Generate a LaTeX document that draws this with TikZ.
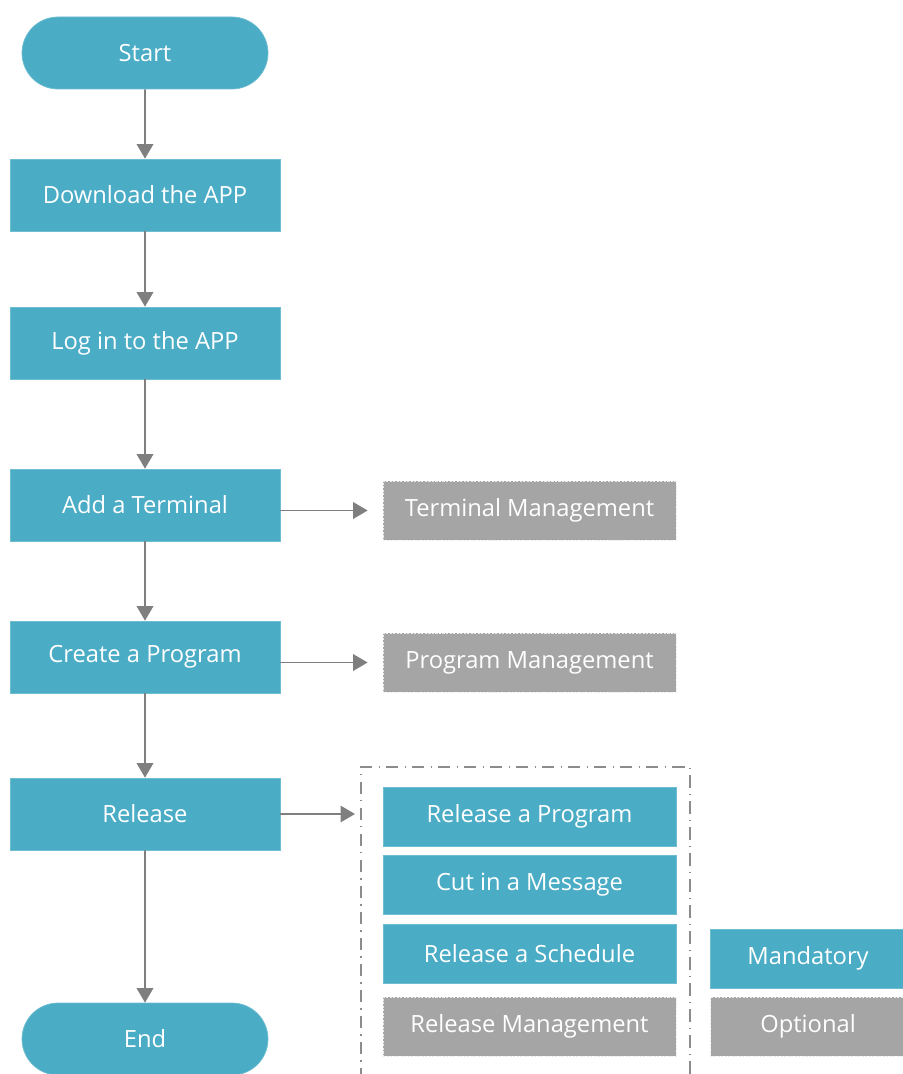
\documentclass[tikz,border=0pt]{standalone}
\usepackage{fontspec}
\setmainfont{Open Sans}
\usepackage{xcolor}
\usetikzlibrary{positioning,arrows.meta,shapes.misc,calc}

\definecolor{mainblue}{HTML}{4BACC6}
\definecolor{optgray}{HTML}{A5A5A5}
\definecolor{linegray}{HTML}{7F7F7F}

\begin{document}
\begin{tikzpicture}[
    font=\fontsize{13.5}{16}\selectfont,
    step box/.style={rectangle, fill=mainblue, draw=mainblue!80!white, line width=0.4pt, text=white, minimum width=5.4cm, minimum height=1.44cm, inner sep=0pt},
    term/.style={rounded rectangle, fill=mainblue, draw=mainblue!80!white, line width=0.4pt, text=white, minimum width=4.92cm, minimum height=1.44cm, inner sep=0pt},
    opt box/.style={rectangle, fill=optgray, draw=white!85!gray, dashed, dash pattern=on 1.2pt off 0.8pt, line width=0.4pt, text=white, minimum width=5.86cm, minimum height=1.18cm, inner sep=0pt},
    sub box/.style={rectangle, fill=mainblue, draw=mainblue!80!white, line width=0.4pt, text=white, minimum width=5.86cm, minimum height=1.18cm, inner sep=0pt},
    key box/.style={minimum width=3.9cm},
    arrow/.style={-{Triangle[length=2.9mm, width=3.3mm]}, draw=linegray, fill=linegray, line width=0.95pt},
]
\useasboundingbox (0,0) rectangle (18.04,-21.48);

% Main flow
\node[term] (start) at (2.9,-1.06) {Start};
\node[step box] (download) at (2.9,-3.9) {Download the APP};
\node[step box] (login) at (2.9,-6.86) {Log in to the APP};
\node[step box] (terminal) at (2.9,-10.1) {Add a Terminal};
\node[step box] (program) at (2.9,-13.14) {Create a Program};
\node[step box] (release) at (2.9,-16.28) {Release};
\node[term] (end) at (2.9,-20.78) {End};

% Side boxes
\node[opt box] (termmgmt) at (10.59,-10.21) {Terminal Management};
\node[opt box] (progmgmt) at (10.59,-13.25) {Program Management};

% Release options
\node[sub box] (relprog) at (10.59,-16.33) {Release a Program};
\node[sub box] (cutmsg) at (10.59,-17.7) {Cut in a Message};
\node[sub box] (relsched) at (10.59,-19.08) {Release a Schedule};
\node[opt box] (relmgmt) at (10.59,-20.53) {Release Management};

% Legend
\node[sub box, key box] (mandatory) at (16.16,-19.17) {Mandatory};
\node[opt box, key box] (optional) at (16.16,-20.53) {Optional};

% Dash-dot frame
\coordinate (frameL) at (7.22,-16.28);
\draw[linegray!90, line width=1.3pt, dash pattern=on 7pt off 3.5pt on 0.8pt off 3.5pt]
    (7.22,-21.6) -- (7.22,-15.34) -- (13.8,-15.34) -- (13.8,-21.6);

% Arrows
\draw[arrow] (start) -- (download);
\draw[arrow] (download) -- (login);
\draw[arrow] (login) -- (terminal);
\draw[arrow] (terminal) -- (program);
\draw[arrow] (program) -- (release);
\draw[arrow] (release) -- (end);
\draw[arrow, shorten >=0.3cm] (terminal.east |- termmgmt) -- (termmgmt);
\draw[arrow, shorten >=0.3cm] (program.east |- progmgmt) -- (progmgmt);
\draw[arrow, shorten >=0.12cm] (release) -- (frameL);
\end{tikzpicture}
\end{document}
